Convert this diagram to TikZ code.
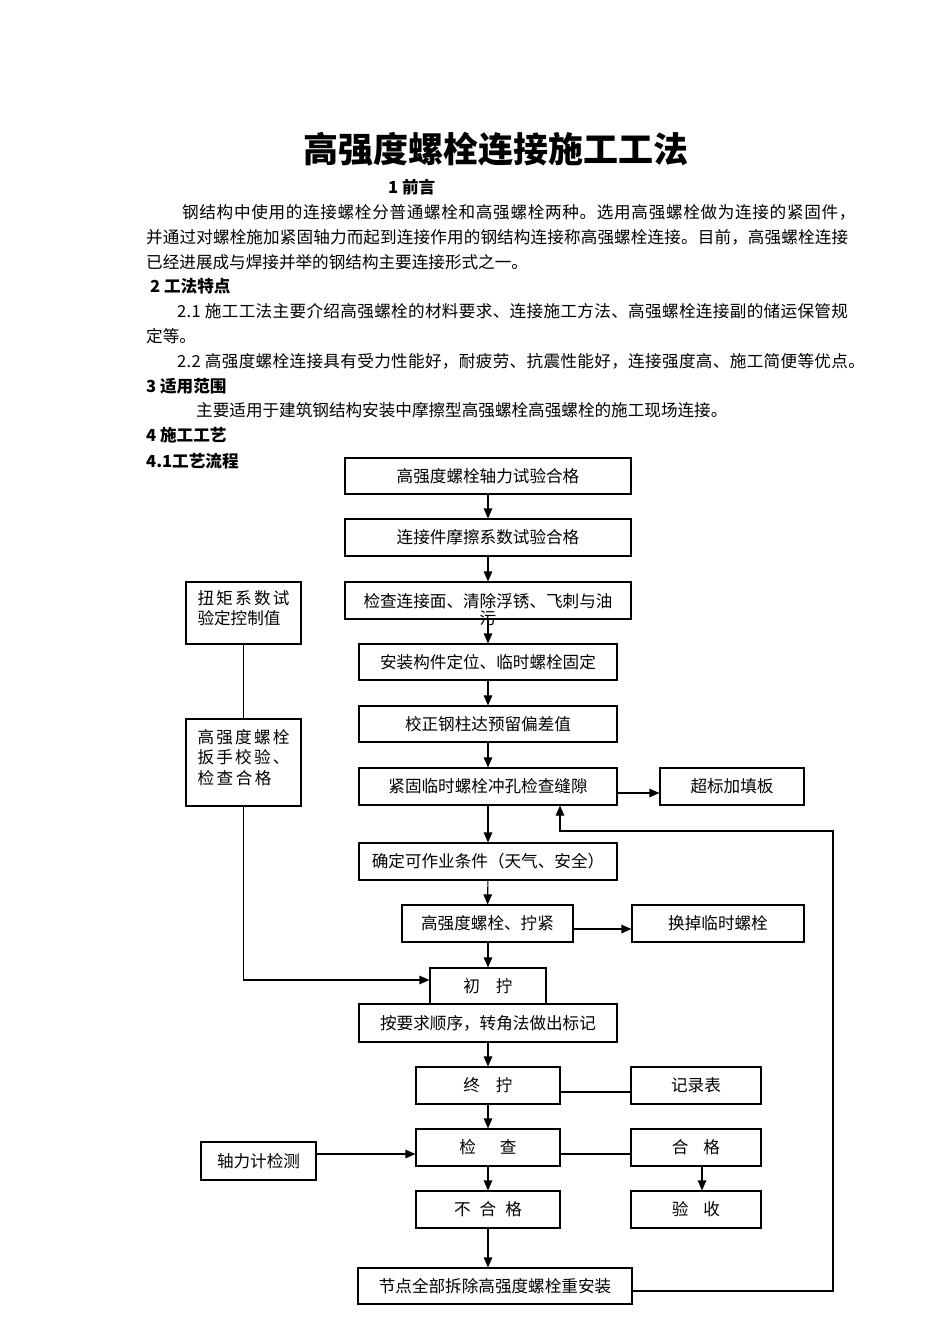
\documentclass[tikz,border=0pt]{standalone}
\usepackage{fontspec}
\setmainfont{Noto Sans CJK SC}
\usetikzlibrary{arrows.meta}
\newcommand\myfs{\fontsize{16.6}{20}\selectfont}
\begin{document}
\begin{tikzpicture}[x=1pt,y=-1pt,
  box/.style={draw, line width=1.1pt, inner sep=0pt, font=\myfs, align=center},
  arr/.style={line width=1.1pt, -{Triangle[length=10pt,width=8.5pt]}},
  ln/.style={line width=1.1pt},
  txt/.style={anchor=west, inner sep=0pt, font=\myfs},
  hd/.style={anchor=west, inner sep=0pt, font=\myfs\bfseries}]
\fill[white] (0,0) rectangle (950,1344);
\useasboundingbox (0,0) rectangle (950,1344);
% title and text
\node[inner sep=0pt, font=\fontsize{35}{40}\selectfont\bfseries] (title) at (496,149) {高强度螺栓连接施工工法};
\node[hd] (h1) at (388,187) {1 前言};
\node[txt] (p1) at (182,212) {\addfontfeature{LetterSpace=4.1}钢结构中使用的连接螺栓分普通螺栓和高强螺栓两种。选用高强螺栓做为连接的紧固件，};
\node[txt] (p2) at (146,237) {\addfontfeature{LetterSpace=0.7}并通过对螺栓施加紧固轴力而起到连接作用的钢结构连接称高强螺栓连接。目前，高强螺栓连接};
\node[txt] (p3) at (146,262) {已经进展成与焊接并举的钢结构主要连接形式之一。};
\node[hd] (h2) at (150,286) {2 工法特点};
\node[txt] (p4) at (177,311) {\addfontfeature{LetterSpace=2}2.1 施工工法主要介绍高强螺栓的材料要求、连接施工方法、高强螺栓连接副的储运保管规};
\node[txt] (p5) at (146,336) {定等。};
\node[txt] (p6) at (177,361) {\addfontfeature{LetterSpace=2}2.2 高强度螺栓连接具有受力性能好，耐疲劳、抗震性能好，连接强度高、施工简便等优点。};
\node[hd] (h3) at (146,386) {3 适用范围};
\node[txt] (p7) at (196,410) {主要适用于建筑钢结构安装中摩擦型高强螺栓高强螺栓的施工现场连接。};
\node[hd] (h4) at (146,435) {4 施工工艺};
\node[hd] (h5) at (146,461) {4.1工艺流程};
% main column
\node[box, minimum width=286pt, minimum height=36pt] (b1) at (488,476) {高强度螺栓轴力试验合格};
\node[box, minimum width=286pt, minimum height=37pt] (b2) at (488,537.5) {连接件摩擦系数试验合格};
\node[box, minimum width=286pt, minimum height=37pt,
  label={[name=b3t, inner sep=0pt, font=\fontsize{16.6}{17}\selectfont, align=center, yshift=-9pt]center:{检查连接面、清除浮锈、飞刺与油\\污}}] (b3) at (488,600.5) {};
\node[box, minimum width=258pt, minimum height=36pt] (b4) at (488,662) {安装构件定位、临时螺栓固定};
\node[box, minimum width=258pt, minimum height=36pt] (b5) at (488,724) {校正钢柱达预留偏差值};
\node[box, minimum width=258pt, minimum height=37pt] (b6) at (488,786.5) {紧固临时螺栓冲孔检查缝隙};
\node[box, minimum width=144pt, minimum height=37pt] (b7) at (732,786.5) {超标加填板};
\node[box, minimum width=258pt, minimum height=37pt] (b8) at (488,861.5) {确定可作业条件（天气、安全）};
\node[box, minimum width=171pt, minimum height=37pt] (b9) at (487.5,923.5) {高强度螺栓、拧紧};
\node[box, minimum width=172pt, minimum height=37pt] (b10) at (718,923.5) {换掉临时螺栓};
\node[box, minimum width=116pt, minimum height=36pt] (b11) at (488,986) {初\hspace{16pt}拧};
\node[box, minimum width=258pt, minimum height=38pt] (b12) at (488,1023) {按要求顺序，转角法做出标记};
\node[box, minimum width=144pt, minimum height=37pt] (b13) at (488,1085.5) {终\hspace{16pt}拧};
\node[box, minimum width=130pt, minimum height=37pt] (b14) at (696,1085.5) {记录表};
\node[box, minimum width=144pt, minimum height=37pt] (b15) at (488,1147.5) {检\hspace{24pt}查};
\node[box, minimum width=130pt, minimum height=37pt] (b16) at (696,1147.5) {合\hspace{15pt}格};
\node[box, minimum width=115pt, minimum height=38pt] (b17) at (258.5,1161) {轴力计检测};
\node[box, minimum width=144pt, minimum height=37pt] (b18) at (488,1209.5) {不\hspace{9pt}合\hspace{9pt}格};
\node[box, minimum width=130pt, minimum height=37pt] (b19) at (696,1209.5) {验\hspace{15pt}收};
\node[box, minimum width=274pt, minimum height=36pt] (b20) at (495,1286) {节点全部拆除高强度螺栓重安装};
% left column
\node[box, minimum width=115pt, minimum height=62pt,
  label={[name=L1t, inner sep=0pt, font=\fontsize{16.6}{20}\selectfont, align=left, yshift=5pt]center:{\makebox[92pt][s]{扭\hfill 矩\hfill 系\hfill 数\hfill 试}\\\makebox[92pt][l]{验定控制值}}}] (L1) at (243.5,613) {};
\node[box, minimum width=115pt, minimum height=87pt,
  label={[name=L2t, inner sep=0pt, font=\fontsize{16.6}{20.5}\selectfont, align=left, yshift=5pt]center:{\makebox[92pt][s]{高\hfill 强\hfill 度\hfill 螺\hfill 栓}\\\makebox[92pt][s]{扳\hfill 手\hfill 校\hfill 验\hfill 、}\\\makebox[92pt][l]{\makebox[74pt][s]{检\hfill 查\hfill 合\hfill 格}}}}] (L2) at (243.5,762.5) {};
\coordinate (loopc) at (833,831);
% connectors
\draw[arr] (b1) -- (b2);
\draw[arr] (b2) -- (b3);
\draw[arr] (b3) -- (b4);
\draw[arr] (b4) -- (b5);
\draw[arr] (b5) -- (b6);
\draw[arr] (b6) -- (b8);
\draw[arr] (b8) -- (b9);
\draw[arr] (b9.south -| b11.north) -- (b11.north);
\draw[arr] (b12) -- (b13);
\draw[arr] (b13) -- (b15);
\draw[arr] (b15) -- (b18);
\draw[arr] (b18.south) -- (b18.south |- b20.north);
\draw[arr] ([yshift=-6.5pt]b6.east) -- ([yshift=-6.5pt]b7.west);
\draw[arr] ([yshift=-5.5pt]b9.east) -- ([yshift=-5.5pt]b10.west);
\draw[ln] ([yshift=-6.5pt]b13.east) -- ([yshift=-6.5pt]b14.west);
\draw[ln] ([yshift=-6.5pt]b15.east) -- ([yshift=-6.5pt]b16.west);
\draw[arr] ([xshift=6pt]b16.south) -- ([xshift=6pt]b19.north);
\draw[arr] ([yshift=7pt]b17.east) -- ([yshift=7pt]b17.east -| b15.west);
\draw[ln] (L1) -- (L2);
\draw[arr] (L2.south) |- ([yshift=6pt]b11.west);
\draw[arr] ([yshift=-5pt]b20.east) -| (loopc) -| ([xshift=72pt]b6.south);
\end{tikzpicture}
\end{document}
